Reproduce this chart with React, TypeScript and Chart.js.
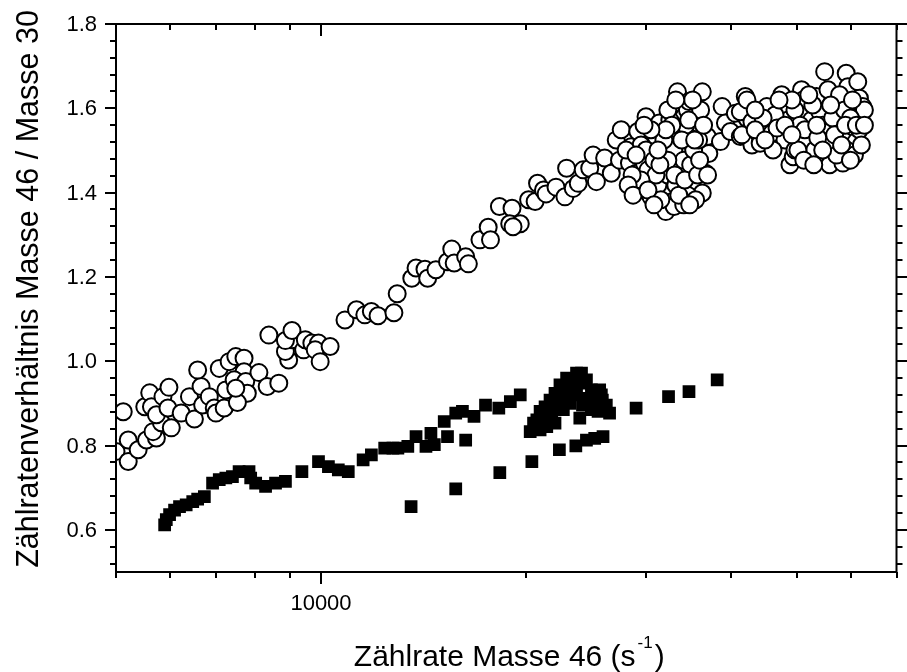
import React, { useEffect, useRef } from 'react';
import { Chart, registerables } from 'chart.js';

Chart.register(...registerables);

const FONT = "'Liberation Sans', Arial, Helvetica, sans-serif";

// ---- axis definitions ----
const X_MIN = 5000;
const X_MAX = 70000;
const Y_MIN = 0.5;
const Y_MAX = 1.8;
const xMajorTicks = [10000];
const xMajorLabels = ['10000'];
const xMinorTicks = [5000, 6000, 7000, 8000, 9000, 20000, 30000, 40000, 50000, 60000, 70000];
const yMajorTicks = [0.6, 0.8, 1.0, 1.2, 1.4, 1.6, 1.8];
const yMajorLabels = ['0.6', '0.8', '1.0', '1.2', '1.4', '1.6', '1.8'];
const yMinorTicks = [0.52, 0.56, 0.64, 0.68, 0.72, 0.76, 0.84, 0.88, 0.92, 0.96, 1.04, 1.08, 1.12, 1.16,
  1.24, 1.28, 1.32, 1.36, 1.44, 1.48, 1.52, 1.56, 1.64, 1.68, 1.72, 1.76];
const xTitleMain = 'Zählrate Masse 46 (s';
const xTitleSup = '-1';
const xTitleEnd = ')';
const yTitle = 'Zählratenverhältnis Masse 46 / Masse 30';

// ---- series: open circles ----
const circleX = [
  5000, 5124, 5211, 5211, 5389, 5543, 5732, 5667, 5829, 6028, 5511, 5604, 5637, 5732, 5860, 5960, 5980, 6233,
  6410, 6518, 6666, 6702, 6855, 6970, 7011, 7249, 7208, 7089, 7330, 7497, 7709, 7709, 7455, 7753, 7795, 7538,
  7497, 6590, 8107, 8336, 8670, 8384, 8965, 8867, 9066, 8867, 9066, 9429, 9483, 9695, 9916, 9806, 10313, 9972,
  10845, 11275, 11597, 11857, 12127, 12796, 12939, 13593, 13790, 14213, 14343, 14748, 15338, 15561, 15688,
  16310, 16459, 17117, 17600, 17737, 18281, 19077, 18930, 19616, 19142, 20177, 20628, 20796, 21218, 21406,
  22136, 22814, 22944, 23466, 23864, 24268, 24810, 25095, 25375, 26093, 26684, 27136, 27439, 27596, 28376,
  28539, 29020, 29188, 29511, 29840, 30011, 29188, 30519, 30694, 31036, 31380, 31740, 31911, 32094, 32637,
  32824, 33001, 33380, 33560, 33752, 33752, 33945, 34125, 34520, 34704, 34902, 35101, 35493, 35696, 36301,
  36301, 36497, 36916, 37112, 36706, 38600, 38820, 39254, 39919, 40592, 41279, 41979, 42219, 43166, 42934,
  41279, 42219, 41516, 42934, 43894, 44144, 45149, 45393, 45914, 47483, 47735, 48544, 48012, 48822, 49367,
  50202, 50778, 51053, 51638, 52508, 52209, 53398, 53994, 54303, 54908, 55520, 55838, 56461, 57109, 57412,
  58071, 58385, 59055, 59375, 59714, 60380, 61073, 61404, 61755, 62108, 62444, 61073, 62801,
  46423, 46735, 49651, 50492, 51688, 52739, 53094, 54541, 55277, 56399, 57741, 58720, 59114, 60320, 60725,
  61755, 44593, 43413, 46113, 49651, 51343, 53633, 57166, 59911,
  30011, 30212, 30828, 31244, 31558, 32308, 32525, 32966, 33188, 33411, 34092, 34321, 34553, 34902, 35255,
  35853, 36095, 34321, 32308, 31036, 29511, 28632, 28062, 35493, 34092,
  28250, 28730, 30212, 30828, 31453, 31878, 32308, 32746, 33077, 33525, 33863, 34206, 34668, 35136, 35372,
  35731, 35971, 36459, 36953, 33188, 32094, 30519, 29811, 29020, 31244, 34786,
  48012, 49151, 50151, 51170, 52036, 53450, 54541, 56025, 56782, 58130, 58913, 59911, 61131, 62165, 62801,
  43413, 44893, 47053, 49151, 52918,
];
const circleY = [
  0.786, 0.880, 0.813, 0.762, 0.790, 0.813, 0.818, 0.833, 0.854, 0.842, 0.892, 0.925, 0.892, 0.873, 0.916, 0.889, 0.938, 0.877,
  0.916, 0.863, 0.940, 0.896, 0.916, 0.889, 0.877, 0.932, 0.889, 0.983, 0.999, 1.011, 1.007, 0.975, 0.956, 0.952, 0.924, 0.902,
  0.936, 0.979, 0.973, 0.940, 0.948, 1.062, 1.003, 1.023, 1.051, 1.049, 1.073, 1.027, 1.051, 1.043, 1.043, 1.027, 1.035, 0.999,
  1.098, 1.122, 1.110, 1.118, 1.108, 1.115, 1.160, 1.197, 1.221, 1.218, 1.197, 1.217, 1.236, 1.266, 1.233,
  1.248, 1.231, 1.288, 1.318, 1.288, 1.367, 1.363, 1.326, 1.326, 1.319, 1.383, 1.379, 1.422, 1.406, 1.397,
  1.413, 1.390, 1.458, 1.410, 1.422, 1.454, 1.458, 1.489, 1.426, 1.482, 1.446, 1.525, 1.477, 1.549, 1.470,
  1.509, 1.446, 1.545, 1.513, 1.470, 1.580, 1.418, 1.390, 1.430, 1.533, 1.565, 1.493, 1.402, 1.355, 1.521,
  1.379, 1.367, 1.639, 1.462, 1.501, 1.394, 1.430, 1.580, 1.596, 1.616, 1.541, 1.414, 1.454, 1.565, 1.639,
  1.399, 1.501, 1.533, 1.493, 1.446, 1.521, 1.604, 1.565, 1.545, 1.588, 1.533, 1.628, 1.576, 1.565, 1.513,
  1.592, 1.620, 1.537, 1.568, 1.541, 1.517, 1.604, 1.560, 1.541, 1.632, 1.600, 1.572, 1.525, 1.466, 1.485,
  1.537, 1.644, 1.620, 1.584, 1.572, 1.477, 1.628, 1.592, 1.541, 1.687, 1.644, 1.466, 1.501, 1.608, 1.549,
  1.572, 1.470, 1.683, 1.651, 1.525, 1.556, 1.596, 1.663, 1.624, 1.572, 1.604, 1.521, 1.596,
  1.584, 1.553, 1.596, 1.560, 1.525, 1.608, 1.501, 1.560, 1.513, 1.577, 1.632, 1.596, 1.501, 1.620, 1.489,
  1.549, 1.577, 1.596, 1.501, 1.501, 1.549, 1.530, 1.489, 1.577,
  1.501, 1.454, 1.477, 1.418, 1.383, 1.442, 1.572, 1.501, 1.418, 1.549, 1.477, 1.525, 1.394, 1.466, 1.501,
  1.525, 1.596, 1.560, 1.477, 1.442, 1.430, 1.442, 1.501, 1.383, 1.371,
  1.418, 1.394, 1.406, 1.371, 1.466, 1.525, 1.596, 1.560, 1.442, 1.394, 1.525, 1.430, 1.572, 1.620, 1.525,
  1.442, 1.477, 1.560, 1.442, 1.620, 1.549, 1.549, 1.560, 1.489, 1.501, 1.371,
  1.560, 1.620, 1.501, 1.477, 1.632, 1.560, 1.501, 1.608, 1.537, 1.513, 1.560, 1.477, 1.560, 1.513, 1.560,
  1.549, 1.525, 1.620, 1.537, 1.466,
];

// ---- series: filled squares ----
const squareX = [
  5894, 5927, 5993, 6095, 6198, 6339, 6481, 6590, 6741, 6931, 7089, 7249, 7412, 7581, 7840, 7884, 8018, 8291,
  8575, 8867, 9375, 9916, 10254, 10603, 10966, 11531, 11857, 12403, 12753, 12969, 13412, 13790, 14261, 14502,
  14669, 15169, 15338, 15771, 16131, 16310, 16776, 17442, 18244, 18969, 19616,
  13561, 15771, 18306, 20401, 22390, 23671, 24535, 25230, 25951,
  20286, 20518, 20977, 21333, 21694, 22061, 22434, 22944, 23727, 24129, 24268, 22061, 22692, 23991, 23201,
  25095, 25657, 25375, 25519, 26532, 21455, 20977, 23466, 24535, 21818, 22338, 23333, 24535, 23727, 24951, 25889,
  20747, 21168, 21890, 22638, 23098, 23567, 24951, 25803, 26241, 24209, 21310, 22188,
  29020, 32385, 34704, 38175,
];
const squareY = [
  0.612, 0.624, 0.636, 0.647, 0.655, 0.659, 0.667, 0.673, 0.679, 0.711, 0.719, 0.723, 0.726, 0.738, 0.738, 0.723, 0.711, 0.703,
  0.711, 0.715, 0.738, 0.762, 0.750, 0.742, 0.738, 0.766, 0.778, 0.794, 0.794, 0.794, 0.798, 0.821, 0.798, 0.829,
  0.802, 0.857, 0.821, 0.877, 0.881, 0.813, 0.869, 0.896, 0.889, 0.904, 0.920,
  0.655, 0.697, 0.736, 0.762, 0.790, 0.799, 0.813, 0.817, 0.821,
  0.833, 0.853, 0.881, 0.892, 0.908, 0.924, 0.944, 0.960, 0.972, 0.972, 0.948, 0.853, 0.885, 0.865, 0.900,
  0.916, 0.932, 0.904, 0.881, 0.877, 0.845, 0.837, 0.924, 0.912, 0.866, 0.896, 0.944, 0.956, 0.920, 0.885, 0.908,
  0.861, 0.873, 0.885, 0.920, 0.932, 0.944, 0.932, 0.920, 0.896, 0.896, 0.849, 0.908,
  0.889, 0.916, 0.928, 0.956,
];

const axesPlugin = {
  id: 'originAxes',
  afterDraw(chart: any) {
    const { ctx, chartArea: a, scales } = chart;
    const xs = scales.x;
    const ys = scales.y;
    const L = a.left, R = a.right, T = a.top, B = a.bottom;
    ctx.save();
    ctx.strokeStyle = '#000';
    ctx.fillStyle = '#000';
    ctx.lineWidth = 2;
    ctx.lineCap = 'butt';
    // frame
    ctx.beginPath();
    ctx.moveTo(L, T); ctx.lineTo(R, T); ctx.lineTo(R, B); ctx.lineTo(L, B); ctx.closePath();
    ctx.stroke();
    const seg = (x1: number, y1: number, x2: number, y2: number) => {
      ctx.beginPath(); ctx.moveTo(x1, y1); ctx.lineTo(x2, y2); ctx.stroke();
    };
    // x ticks (bottom outward, top inward)
    xMinorTicks.forEach((v) => {
      const px = Math.round(xs.getPixelForValue(v));
      seg(px, B, px, B + 6);
      seg(px, T, px, T + 6);
    });
    xMajorTicks.forEach((v) => {
      const px = Math.round(xs.getPixelForValue(v));
      seg(px, B, px, B + 12);
      seg(px, T, px, T + 12);
    });
    // y ticks (left outward, right outward)
    yMinorTicks.forEach((v) => {
      const py = Math.round(ys.getPixelForValue(v));
      seg(L - 6, py, L, py);
      seg(R, py, R + 6, py);
    });
    yMajorTicks.forEach((v) => {
      const py = Math.round(ys.getPixelForValue(v));
      seg(L - 11, py, L, py);
      seg(R, py, R + 11, py);
    });
    // tick labels
    ctx.font = `22px ${FONT}`;
    ctx.textAlign = 'right';
    ctx.textBaseline = 'middle';
    yMajorTicks.forEach((v, i) => {
      ctx.fillText(yMajorLabels[i], L - 19, ys.getPixelForValue(v) + 1);
    });
    ctx.textAlign = 'center';
    ctx.textBaseline = 'alphabetic';
    xMajorTicks.forEach((v, i) => {
      ctx.fillText(xMajorLabels[i], xs.getPixelForValue(v), B + 38);
    });
    // x title with superscript
    const mainFont = `30px ${FONT}`;
    const supFont = `17px ${FONT}`;
    ctx.font = mainFont;
    const wMain = ctx.measureText(xTitleMain).width;
    const wEnd = ctx.measureText(xTitleEnd).width;
    ctx.font = supFont;
    const wSup = ctx.measureText(xTitleSup).width;
    const total = wMain + 2 + wSup + 2 + wEnd;
    let x0 = (L + R) / 2 - total / 2 + 3;
    const base = B + 94;
    ctx.textAlign = 'left';
    ctx.font = mainFont;
    ctx.fillText(xTitleMain, x0, base);
    x0 += wMain + 2;
    ctx.font = supFont;
    ctx.fillText(xTitleSup, x0, base - 18);
    x0 += wSup + 2;
    ctx.font = mainFont;
    ctx.fillText(xTitleEnd, x0, base);
    // y title
    ctx.save();
    ctx.translate(38, 289);
    ctx.rotate(-Math.PI / 2);
    ctx.textAlign = 'center';
    ctx.font = `30.5px ${FONT}`;
    ctx.fillText(yTitle, 0, 0);
    ctx.restore();
    ctx.restore();
  },
};

export default function App() {
  const ref = useRef<HTMLCanvasElement>(null);
  useEffect(() => {
    const canvas = ref.current;
    if (!canvas) return;
    const chart = new Chart(canvas, {
      type: 'scatter',
      data: {
        datasets: [
          {
            label: 'Masse 46 / Masse 30 (B)',
            data: squareX.map((x, i) => ({ x, y: squareY[i] })),
            pointStyle: 'rect',
            pointRadius: 9,
            backgroundColor: '#000',
            borderColor: '#000',
            borderWidth: 0,
          },
          {
            label: 'Masse 46 / Masse 30 (A)',
            data: circleX.map((x, i) => ({ x, y: circleY[i] })),
            pointStyle: 'circle',
            pointRadius: 8.5,
            backgroundColor: '#fff',
            borderColor: '#000',
            borderWidth: 2,
          },
        ],
      },
      options: {
        responsive: false,
        animation: false,
        devicePixelRatio: 1,
        events: [],
        layout: { padding: { left: 116, right: 3, top: 24, bottom: 100 } },
        plugins: { legend: { display: false }, tooltip: { enabled: false }, title: { display: false } },
        scales: {
          x: { type: 'logarithmic', min: X_MIN, max: X_MAX, display: false },
          y: { type: 'linear', min: Y_MIN, max: Y_MAX, display: false },
        },
      },
      plugins: [axesPlugin],
    });
    return () => chart.destroy();
  }, []);
  return (
    <div style={{ position: 'fixed', left: 0, top: 0, width: 907, height: 672, background: '#fff' }}>
      <canvas ref={ref} width={907} height={672} style={{ display: 'block', width: 907, height: 672 }} />
    </div>
  );
}
